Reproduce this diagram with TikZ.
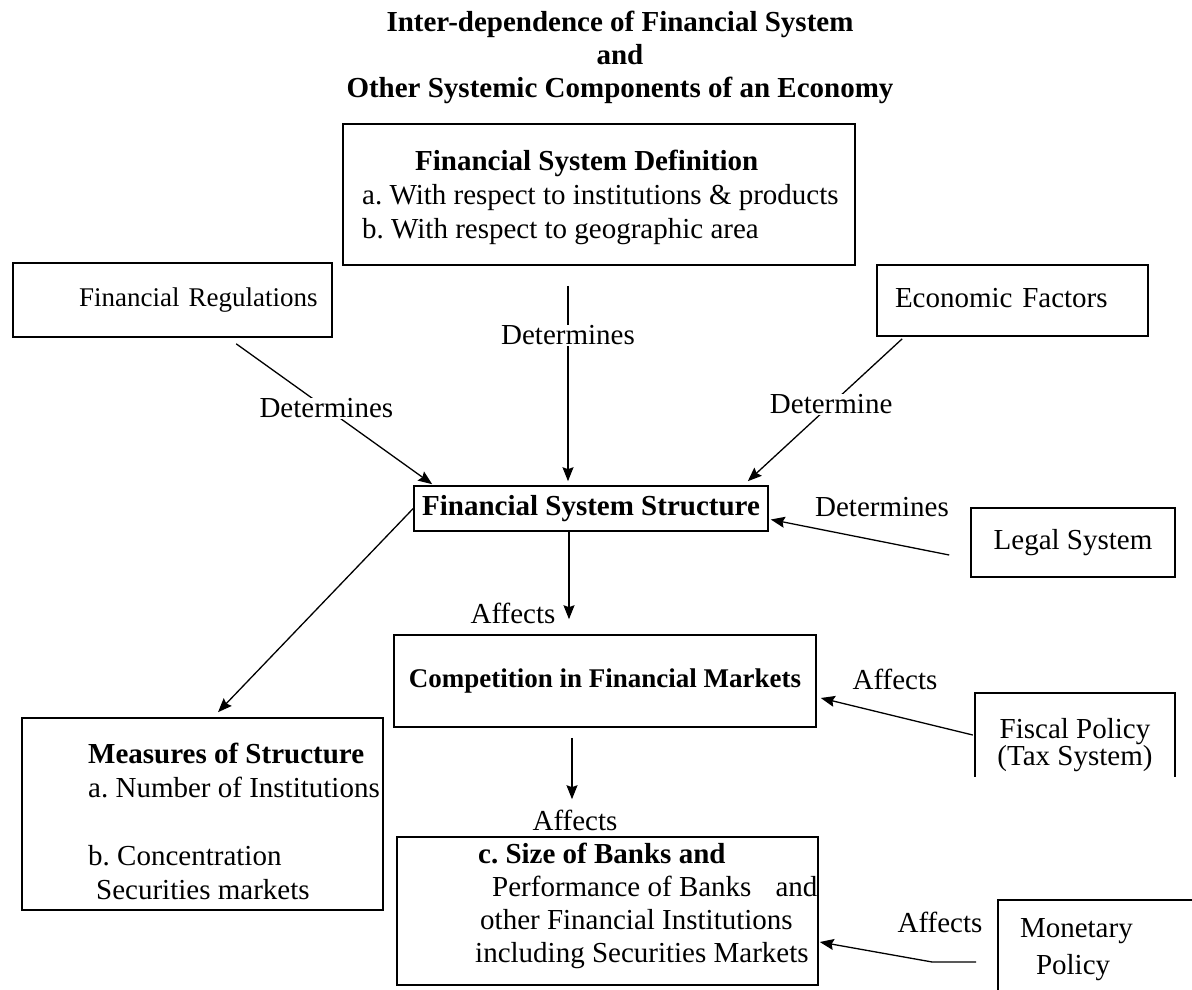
\documentclass[tikz,border=0pt]{standalone}
\usepackage{fontspec}
\setmainfont{Liberation Serif}
\usepackage{tikz}
\usetikzlibrary{calc,positioning,arrows.meta}
\frenchspacing
\tikzset{
>={Stealth[length=14pt,width=11pt,inset=2pt]},
  every node/.style={font=\fontsize{29}{34}\selectfont},
  bold/.style={font=\fontsize{29}{34}\selectfont\bfseries},
}

\begin{document}
\begin{tikzpicture}[x=1pt, y=-1pt]
    \tikzset{
        box/.style={rectangle, draw=black, line width=1.6pt, inner sep=0pt, text centered},
        boxtext/.style={inner sep=0pt, align=left},
        lbl/.style={inner sep=1pt},
        cutlbl/.style={fill=white, inner sep=1pt},
        myarrow/.style={draw, ->, line width=1.3pt},
    }
    \path[use as bounding box] (0,0) rectangle (1192,989);
    \clip (0,0) rectangle (1192,989);

    \node[bold, align=center, font=\fontsize{29}{33}\selectfont\bfseries] (title) at (620,57) {Inter-dependence of Financial System\\and\\Other Systemic Components of an Economy};

    \node[box, minimum width=512pt, minimum height=141pt] (definition) at (599,194.5) {};
    \node[boxtext, anchor=west] (definitiontxt) at (362,197) {\hspace*{53pt}\textbf{Financial System Definition}\\a. With respect to institutions \& products\\b. With respect to geographic area};

    \node[box, minimum width=319pt, minimum height=74pt, text width=290pt, align=right, font=\fontsize{27}{32}\selectfont] (regulations) at (172.5,300) {Financial Regulations};
    \node[box, minimum width=271pt, minimum height=71pt, text width=235pt, align=left] (econfactors) at (1012.5,300.5) {\raisebox{5pt}{Economic Factors}};

    \node[box, bold, minimum width=354pt, minimum height=45pt] (structure) at (591,508.5) {Financial System Structure};
    \node[box, minimum width=204pt, minimum height=69pt] (legalsys) at (1073,542.5) {Legal System};

    \node[box, minimum width=422pt, minimum height=92pt, font=\fontsize{27}{32}\selectfont\bfseries] (competition) at (605,681) {Competition in Financial Markets};
    \node[inner sep=0pt, minimum width=200pt, minimum height=105pt, align=center, font=\fontsize{29}{27}\selectfont] (fiscal) at (1075,745.5) {Fiscal Policy\\(Tax System)};
    \draw[line width=1.6pt] ($(fiscal.north west)+(0,84)$) -- (fiscal.north west) -- (fiscal.north east) -- ++(0,84);

    \node[box, minimum width=361pt, minimum height=192pt] (measures) at (202.5,814) {};
    \node[boxtext, anchor=west] (measurestxt) at (88,821) {\textbf{Measures of Structure}\\a. Number of Institutions\\[34pt]b. Concentration\\\hspace*{8pt}Securities markets};

    \node[box, minimum width=421pt, minimum height=148pt] (banks) at (607.5,911) {};
    \node[boxtext, anchor=west, font=\fontsize{29}{33}\selectfont] (bankstxt) at (475,905.5) {\hspace*{3pt}\textbf{c. Size of Banks and}\\\hspace*{17pt}Performance of Banks\hspace{24pt}and\\\hspace*{5pt}other Financial Institutions\\including Securities Markets};

    \node[box, minimum width=200pt, minimum height=100pt, text width=156pt, align=left, font=\fontsize{29}{37}\selectfont] (monetary) at (1098,950) {Monetary\\\hspace*{16pt}Policy};

    % labels standing beside the arrows
    \node[lbl] (lbllegal) at (882,507) {Determines};
    \node[lbl] (lblstruct) at (513,613) {Affects};
    \node[lbl] (lblfiscal) at (895,679) {Affects};
    \node[lbl] (lblbanks) at (575,820) {Affects};
    \node[lbl] (lblmonetary) at (940,922) {Affects};

    % arrows
    \path[myarrow] ($(regulations.south west)+(224,6)$) -- node[cutlbl, pos=0.46] (lblregul) {Determines} ($(structure.north west)+(19,-1)$);
    \path[myarrow] ($(definition.south)+(-31,20)$) -- node[cutlbl, pos=0.254] (lbldefn) {Determines} ($(structure.north)+(-23,-4)$);
    \path[myarrow] ($(econfactors.south west)+(26,2)$) -- node[cutlbl, pos=0.46] (lblecon) {Determine} ($(structure.north east)+(-21,-4)$);
    \path[myarrow] ($(legalsys.west)+(-21,12.5)$) -- ($(structure.east)+(2,11)$);
    \path[myarrow] (structure.west) -- ($(measures.north)+(15.5,-5)$);
    \path[myarrow] ($(structure.south)+(-22,0)$) -- ($(competition.north)+(-36,-15)$);
    \path[myarrow] ($(competition.south)+(-33,10)$) -- ($(banks.north)+(-35.5,-37)$);
    \path[myarrow] ($(fiscal.west)+(-2,-10.5)$) -- ($(competition.east)+(4,17)$);
    \path[myarrow] ($(monetary.west)+(-21,12)$) -- ++(-44,0) -- ($(banks.east)+(1,31)$);
\end{tikzpicture}
\end{document}
